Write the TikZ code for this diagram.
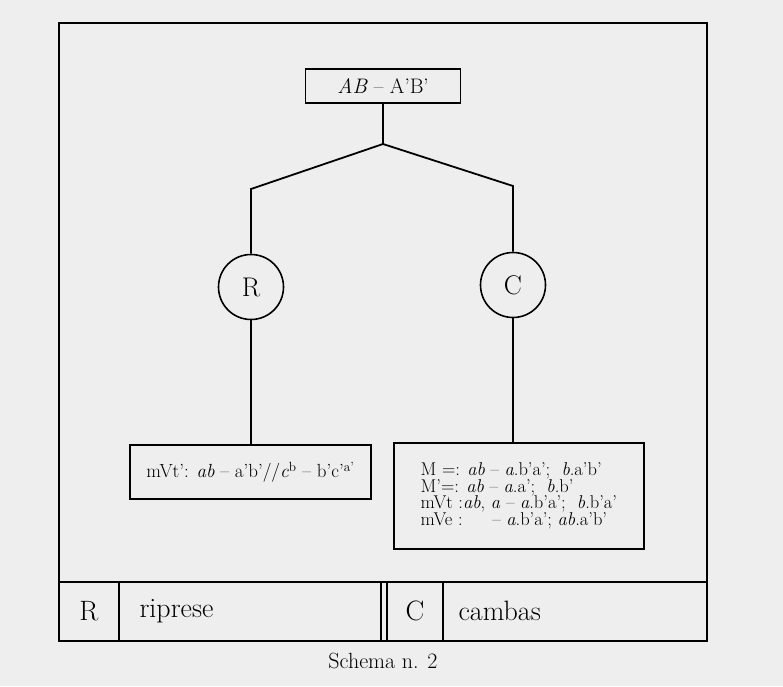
\documentclass[tikz,border=0pt]{standalone}
\usepackage{fontspec}
\usetikzlibrary{positioning}
\definecolor{paper}{HTML}{EEEEEE}

\begin{document}
\begin{tikzpicture}[x=1pt, y=-1pt,
  box/.style={draw, line width=1.8pt, minimum height=34pt,
              font=\fontsize{21}{24}\selectfont},
  ring/.style={draw, circle, line width=1.6pt, minimum size=65pt,
               inner sep=0pt, font=\fontsize{27}{30}\selectfont},
  formula/.style={draw, line width=1.8pt, align=left,
                  font=\fontsize{18.5}{16.7}\selectfont},
  cell/.style={font=\fontsize{28}{32}\selectfont},
  link/.style={line width=1.8pt}]
  \useasboundingbox[fill=paper] (0,0) rectangle (783,686);
  % frame and legend strip
  \draw[line width=2.2pt] (59,23) rectangle (707,641);
  \draw[line width=1.8pt] (59,582) -- (707,582);
  \draw[line width=1.8pt] (119,582) -- (119,641) (381,582) -- (381,641)
    (387,582) -- (387,641) (443,582) -- (443,641);
  % tree
  \node[box, minimum width=155pt] (top) at (383,86) {\textit{AB} – A’B’};
  \coordinate (fork) at (383,144);
  \coordinate (rbend) at (251,189);
  \coordinate (cbend) at (513,186);
  \node[ring] (rr) at (251,287) {R};
  \node[ring] (cc) at (513,285) {C};
  \node[formula, minimum width=241pt, minimum height=54pt, anchor=north west,
        font=\fontsize{19}{21}\selectfont] (rbox) at (129,444)
    {mVt’: \textit{ab} – a’b’//\textit{c}\textsuperscript{b} – b’c’\textsuperscript{a’}};
  \node[formula, minimum width=250pt, minimum height=106pt, anchor=north west,
        inner xsep=12pt] (cbox) at (393,442)
    {M =: \textit{ab} – \textit{a}.b’a’;\ \ \textit{b}.a’b’\\
     M’=: \textit{ab} – \textit{a}.a’;\ \ \textit{b}.b’\\
     mVt :\textit{ab},\ \textit{a} – \textit{a}.b’a’;\ \ \textit{b}.b’a’\\
     mVe :\quad\ \ – \textit{a}.b’a’; \textit{ab}.a’b’};
  \draw[link] (top) -- (fork) -- (rbend) -- (rr);
  \draw[link] (fork) -- (cbend) -- (cc);
  \draw[link] (rr) -- (rr |- rbox.north);
  \draw[link] (cc) -- (cc |- cbox.north);
  % legend
  \node[cell] (rkey) at (89,611) {R};
  \node[cell, anchor=west] (rname) at (136,611) {riprese};
  \node[cell] (ckey) at (415,611) {C};
  \node[cell, anchor=west] (cname) at (455,611) {cambas};
  \node[font=\fontsize{22}{26}\selectfont] (caption) at (383,661) {Schema n. 2};
\end{tikzpicture}
\end{document}
